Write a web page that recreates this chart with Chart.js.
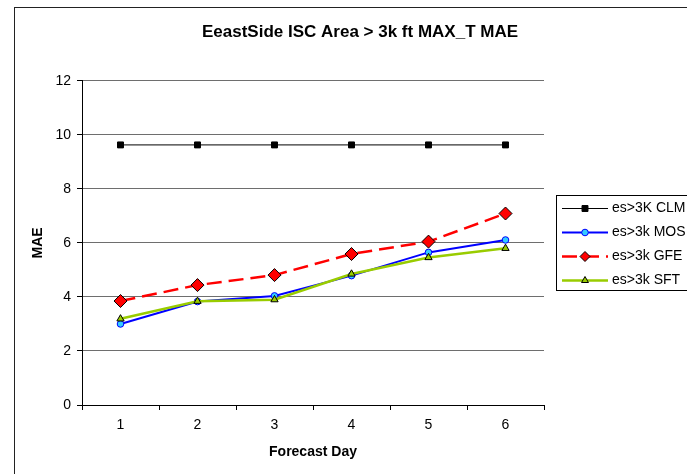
<!DOCTYPE html>
<html>
<head>
<meta charset="utf-8">
<script src="https://cdn.jsdelivr.net/npm/chart.js@4.4.1/dist/chart.umd.min.js"></script>
<style>
  html, body { margin: 0; padding: 0; background: #fff; overflow: hidden; }
  canvas { display: block; }
</style>
</head>
<body>
<canvas id="maeChart" width="687" height="474"></canvas>
<script>
// values
const forecastDays = ['1', '2', '3', '4', '5', '6'];
const clmMae = [9.63, 9.63, 9.63, 9.63, 9.63, 9.63];
const mosMae = [3.00, 3.83, 4.04, 4.79, 5.65, 6.11];
const gfeMae = [3.85, 4.44, 4.81, 5.59, 6.05, 7.09];
const sftMae = [3.19, 3.84, 3.90, 4.85, 5.46, 5.80];
const yTicks = [0, 2, 4, 6, 8, 10, 12];

Chart.defaults.font.family = '"Liberation Sans", Arial, sans-serif';
Chart.defaults.color = '#000';

// white background + outer chart frame (runs off right/bottom edge like the original)
const frame = {
  id: 'frame',
  beforeDraw(chart) {
    const ctx = chart.ctx;
    ctx.save();
    ctx.fillStyle = '#fff';
    ctx.fillRect(0, 0, chart.width, chart.height);
    ctx.strokeStyle = '#222';
    ctx.lineWidth = 1;
    ctx.strokeRect(14.5, 7.5, 800, 600);
    ctx.restore();
  }
};

// title is centred on the whole (wider) original chart, not on the plot
const titleSpan = {
  id: 'titleSpan',
  afterLayout(chart) {
    if (chart.titleBlock) {
      chart.titleBlock.left = 14;
      chart.titleBlock.right = 706;
    }
  }
};

// Excel style legend: line sample with marker, inside a box
const legendBox = {
  id: 'legendBox',
  afterDraw(chart) {
    const ctx = chart.ctx;
    const left = 556, top = 195, rowH = 24;
    ctx.save();
    ctx.strokeStyle = '#000';
    ctx.lineWidth = 1;
    ctx.strokeRect(left + 0.5, top + 0.5, 200, 95);
    chart.data.datasets.forEach((ds, i) => {
      const y = top + 13.5 + i * rowH;
      ctx.beginPath();
      ctx.setLineDash(ds.borderDash || []);
      ctx.strokeStyle = ds.borderColor;
      ctx.lineWidth = ds.borderWidth;
      ctx.moveTo(left + 6, y);
      ctx.lineTo(left + 52, y);
      ctx.stroke();
      ctx.setLineDash([]);
      ctx.fillStyle = ds.pointBackgroundColor;
      ctx.strokeStyle = ds.pointBorderColor;
      ctx.lineWidth = 1;
      Chart.helpers.drawPoint(ctx, {
        pointStyle: ds.pointStyle,
        radius: ds.legendRadius,
        rotation: 0,
        borderWidth: 1
      }, left + 29, y);
      ctx.fillStyle = '#000';
      ctx.font = '14px "Liberation Sans", Arial, sans-serif';
      ctx.textBaseline = 'middle';
      ctx.fillText(ds.label, left + 56, y);
    });
    ctx.restore();
  }
};

new Chart(document.getElementById('maeChart'), {
  type: 'line',
  data: {
    labels: forecastDays,
    datasets: [
      {
        label: 'es>3K CLM',
        data: clmMae,
        borderColor: '#000',
        borderWidth: 1,
        pointStyle: 'rect',
        pointRadius: 4.2,
        legendRadius: 4.2,
        pointBackgroundColor: '#000',
        pointBorderColor: '#000',
        pointBorderWidth: 1,
        order: 4
      },
      {
        label: 'es>3k MOS',
        data: mosMae,
        borderColor: '#0000ff',
        borderWidth: 2,
        pointStyle: 'circle',
        pointRadius: 3.3,
        legendRadius: 3.3,
        pointBackgroundColor: '#33ccff',
        pointBorderColor: '#0000ff',
        pointBorderWidth: 1,
        order: 3
      },
      {
        label: 'es>3k GFE',
        data: gfeMae,
        borderColor: '#ff0000',
        borderWidth: 2.5,
        borderDash: [15, 7],
        pointStyle: 'rectRot',
        pointRadius: 6.5,
        legendRadius: 5,
        pointBackgroundColor: '#ff0000',
        pointBorderColor: '#000',
        pointBorderWidth: 1,
        order: 2
      },
      {
        label: 'es>3k SFT',
        data: sftMae,
        borderColor: '#99cc00',
        borderWidth: 2.5,
        pointStyle: 'triangle',
        pointRadius: 4.2,
        legendRadius: 4,
        pointBackgroundColor: '#99cc00',
        pointBorderColor: '#000',
        pointBorderWidth: 1,
        order: 1
      }
    ]
  },
  options: {
    responsive: false,
    animation: false,
    devicePixelRatio: 1,
    layout: { padding: { left: 14, right: 143, top: 0, bottom: 0 } },
    elements: { line: { tension: 0 } },
    plugins: {
      legend: { display: false },
      tooltip: { enabled: false },
      title: {
        display: true,
        text: 'EeastSide ISC Area > 3k ft MAX_T MAE',
        color: '#000',
        font: { size: 17, weight: 'bold' },
        padding: { top: 22.5, bottom: 38 }
      }
    },
    scales: {
      x: {
        offset: true,
        afterFit: s => { s.height = 69; },
        border: { color: '#000', width: 1 },
        grid: { offset: true, drawOnChartArea: false, tickLength: 5, color: '#000' },
        ticks: { color: '#000', font: { size: 14 }, padding: 7 },
        title: {
          display: true,
          text: 'Forecast Day',
          color: '#000',
          font: { size: 14, weight: 'bold' },
          padding: { top: 0, bottom: 13 }
        }
      },
      y: {
        min: 0,
        max: 12,
        afterBuildTicks: s => { s.ticks = yTicks.map(v => ({ value: v })); },
        afterFit: s => { s.width = 68; },
        border: { color: '#000', width: 1 },
        grid: { color: '#6e6e6e', lineWidth: 1, tickLength: 5, tickColor: '#000' },
        ticks: { color: '#000', font: { size: 14 }, padding: 6 },
        title: {
          display: true,
          text: 'MAE',
          color: '#000',
          font: { size: 14, weight: 'bold' },
          padding: { top: 16, bottom: 0 }
        }
      }
    }
  },
  plugins: [frame, titleSpan, legendBox]
});
</script>
</body>
</html>
